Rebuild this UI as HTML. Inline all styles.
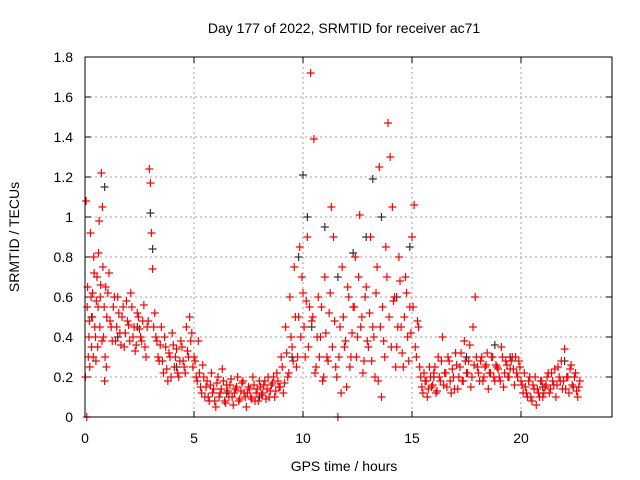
<!DOCTYPE html>
<html><head><meta charset="utf-8">
<style>
body{margin:0;background:#fff;}
svg{display:block;font-family:"Liberation Sans",sans-serif;}
</style></head>
<body>
<svg id="chart" width="640" height="480">
<rect width="640" height="480" fill="#fff"/>
<text x="344" y="33" font-size="14" text-anchor="middle">Day 177 of 2022, SRMTID for receiver ac71</text>
<text x="344" y="471" font-size="14" text-anchor="middle">GPS time / hours</text>
<text transform="translate(19,237) rotate(-90)" font-size="14" text-anchor="middle">SRMTID / TECUs</text>
<g id="grid"></g>
<g id="ticks"></g>
<g id="black"></g>
<g id="red"></g>
<rect x="85" y="57" width="527" height="360" fill="none" stroke="#000" stroke-width="1"/>
</svg>
<script>
const xTicks=[0,5,10,15,20];
const yTicks=[0,0.2,0.4,0.6,0.8,1,1.2,1.4,1.6,1.8];
const yTickLabels=["0","0.2","0.4","0.6","0.8","1","1.2","1.4","1.6","1.8"];
const redT=[0.05,0.08,0.1,0.15,0.2,0.25,0.3,0.35,0.4,0.45,0.5,0.55,0.6,0.65,0.7,0.75,0.8,0.85,0.9,0.95,1.0,1.1,1.2,1.3,1.4,1.5,1.6,1.7,1.8,1.9,2.0,2.1,2.2,2.3,2.4,2.5,2.6,2.7,2.8,2.9,2.95,3.0,3.05,3.1,3.15,3.2,3.3,3.4,3.5,3.6,3.7,3.8,3.9,4.0,4.1,4.2,4.3,4.4,4.5,4.6,4.7,4.8,4.9,5.0,5.1,5.2,5.3,5.4,5.5,5.6,5.7,5.8,5.9,6.0,6.1,6.2,6.3,6.4,6.5,6.6,6.7,6.8,6.9,7.0,7.1,7.2,7.3,7.4,7.5,7.6,7.7,7.8,7.9,8.0,8.1,8.2,8.3,8.4,8.5,8.6,8.7,8.8,8.9,9.0,9.1,9.2,9.3,9.4,9.5,9.6,9.7,9.8,9.85,9.9,10.0,10.1,10.2,10.3,10.35,10.4,10.5,10.6,10.7,10.8,10.9,11.0,11.1,11.2,11.3,11.4,11.5,11.6,11.7,11.8,11.9,12.0,12.1,12.2,12.3,12.4,12.5,12.6,12.7,12.8,12.9,13.0,13.1,13.2,13.3,13.4,13.5,13.6,13.65,13.7,13.8,13.9,14.0,14.1,14.2,14.3,14.4,14.5,14.6,14.7,14.8,14.9,15.0,15.1,15.2,15.3,15.4,15.5,15.6,15.7,15.8,15.9,16.0,16.1,16.2,16.3,16.4,16.5,16.6,16.7,16.8,16.9,17.0,17.1,17.2,17.3,17.4,17.5,17.6,17.7,17.8,17.9,18.0,18.1,18.2,18.3,18.4,18.5,18.6,18.7,18.8,18.9,19.0,19.1,19.2,19.3,19.4,19.5,19.6,19.7,19.8,19.9,20.0,20.1,20.2,20.3,20.4,20.5,20.6,20.7,20.8,20.9,21.0,21.1,21.2,21.3,21.4,21.5,21.6,21.7,21.8,21.9,22.0,22.1,22.2,22.3,22.4,22.5,22.6,22.7];
const redV=[1.08,0.0,0.55,0.3,0.48,0.92,0.35,0.62,0.8,0.45,0.28,0.7,0.55,0.98,0.6,1.22,1.05,0.4,0.18,0.65,0.5,0.72,0.45,0.55,0.38,0.6,0.42,0.5,0.35,0.58,0.46,0.62,0.4,0.33,0.52,0.44,0.38,0.56,0.3,0.48,1.24,1.17,0.92,0.74,0.45,0.52,0.38,0.28,0.45,0.22,0.35,0.18,0.3,0.42,0.25,0.34,0.2,0.38,0.28,0.22,0.33,0.5,0.42,0.3,0.2,0.38,0.15,0.26,0.1,0.18,0.08,0.22,0.14,0.05,0.2,0.12,0.24,0.08,0.16,0.1,0.19,0.06,0.14,0.2,0.09,0.17,0.12,0.05,0.15,0.1,0.2,0.08,0.14,0.18,0.11,0.16,0.09,0.2,0.13,0.17,0.1,0.22,0.15,0.3,0.12,0.45,0.2,0.6,0.35,0.75,0.25,0.5,0.85,0.4,0.62,0.3,0.9,0.55,1.72,0.48,1.39,0.25,0.6,0.4,0.18,0.7,0.3,0.52,1.05,0.9,0.25,0.0,0.45,0.75,0.35,0.15,0.6,0.3,0.55,0.8,0.4,1.01,0.5,0.28,0.65,0.35,0.9,0.45,0.2,0.75,1.25,0.1,0.55,0.38,0.85,1.47,1.3,1.05,0.6,0.35,0.8,0.45,0.25,0.7,0.4,0.55,0.9,1.06,0.3,0.45,0.2,0.12,0.18,0.1,0.25,0.15,0.22,0.12,0.3,0.18,0.4,0.22,0.15,0.28,0.12,0.2,0.32,0.14,0.25,0.18,0.38,0.22,0.28,0.15,0.45,0.6,0.25,0.18,0.3,0.2,0.26,0.14,0.22,0.3,0.18,0.25,0.2,0.35,0.15,0.28,0.2,0.24,0.3,0.16,0.22,0.28,0.18,0.12,0.15,0.1,0.2,0.08,0.14,0.06,0.12,0.18,0.1,0.15,0.2,0.12,0.22,0.16,0.1,0.25,0.18,0.14,0.34,0.2,0.12,0.26,0.15,0.22,0.1,0.18];
const redT2=[0.02,0.12,0.18,0.22,0.28,0.33,0.38,0.42,0.48,0.52,0.58,0.62,0.68,0.72,0.78,0.82,0.88,0.92,0.98,1.05,1.15,1.25,1.35,1.45,1.55,1.65,1.75,1.85,1.95,2.05,2.15,2.25,2.35,2.45,2.55,2.65,2.75,2.85,3.25,3.35,3.45,3.55,3.65,3.75,3.85,3.95,4.05,4.15,4.25,4.35,4.45,4.55,4.65,4.75,4.85,4.95,5.05,5.15,5.25,5.35,5.45,5.55,5.65,5.75,5.85,5.95,6.05,6.15,6.25,6.35,6.45,6.55,6.65,6.75,6.85,6.95,7.05,7.15,7.25,7.35,7.45,7.55,7.65,7.75,7.85,7.95,8.05,8.15,8.25,8.35,8.45,8.55,8.65,8.75,8.85,8.95,9.05,9.15,9.25,9.35,9.45,9.55,9.65,9.75,9.95,10.05,10.15,10.25,10.45,10.55,10.65,10.75,10.85,10.95,11.05,11.15,11.25,11.35,11.45,11.55,11.65,11.75,11.85,11.95,12.05,12.15,12.25,12.35,12.45,12.55,12.65,12.75,12.85,12.95,13.05,13.15,13.25,13.35,13.45,13.55,13.75,13.85,13.95,14.05,14.15,14.25,14.35,14.45,14.55,14.65,14.75,14.85,14.95,15.05,15.15,15.25,15.35,15.45,15.55,15.65,15.75,15.85,15.95,16.05,16.15,16.25,16.35,16.45,16.55,16.65,16.75,16.85,16.95,17.05,17.15,17.25,17.35,17.45,17.55,17.65,17.75,17.85,17.95,18.05,18.15,18.25,18.35,18.45,18.55,18.65,18.75,18.85,18.95,19.05,19.15,19.25,19.35,19.45,19.55,19.65,19.75,19.85,19.95,20.05,20.15,20.25,20.35,20.45,20.55,20.65,20.75,20.85,20.95,21.05,21.15,21.25,21.35,21.45,21.55,21.65,21.75,21.85,21.95,22.05,22.15,22.25,22.35,22.45,22.55,22.65];
const redV2=[0.2,0.65,0.4,0.25,0.6,0.5,0.3,0.72,0.4,0.58,0.35,0.82,0.45,0.66,0.38,0.75,0.55,0.3,0.25,0.62,0.48,0.38,0.6,0.45,0.52,0.36,0.55,0.42,0.48,0.38,0.55,0.45,0.36,0.5,0.4,0.48,0.35,0.45,0.4,0.3,0.36,0.28,0.4,0.24,0.32,0.2,0.36,0.3,0.22,0.28,0.35,0.25,0.45,0.3,0.38,0.25,0.28,0.18,0.22,0.12,0.2,0.15,0.1,0.16,0.12,0.08,0.17,0.1,0.14,0.18,0.07,0.13,0.16,0.1,0.12,0.15,0.08,0.13,0.18,0.1,0.12,0.14,0.09,0.16,0.12,0.08,0.15,0.12,0.18,0.14,0.1,0.16,0.2,0.13,0.18,0.15,0.25,0.17,0.32,0.22,0.4,0.28,0.5,0.3,0.7,0.45,0.58,0.35,0.5,0.22,0.4,0.3,0.55,0.2,0.42,0.28,0.62,0.35,0.48,0.2,0.3,0.12,0.5,0.38,0.65,0.25,0.42,0.55,0.3,0.7,0.45,0.22,0.6,0.38,0.52,0.28,0.4,0.62,0.18,0.45,0.3,0.7,0.5,0.35,0.58,0.25,0.45,0.68,0.32,0.5,0.62,0.28,0.42,0.55,0.35,0.48,0.25,0.15,0.22,0.18,0.14,0.2,0.16,0.25,0.13,0.2,0.28,0.16,0.22,0.3,0.18,0.24,0.14,0.26,0.2,0.32,0.18,0.28,0.22,0.36,0.2,0.26,0.3,0.22,0.28,0.18,0.25,0.32,0.22,0.3,0.2,0.26,0.24,0.18,0.3,0.22,0.26,0.2,0.28,0.24,0.3,0.2,0.25,0.16,0.22,0.12,0.18,0.1,0.16,0.2,0.14,0.1,0.18,0.12,0.16,0.22,0.14,0.18,0.24,0.16,0.2,0.28,0.18,0.14,0.2,0.24,0.16,0.2,0.13,0.15];
const blackT=[0.3,0.9,1.5,2.4,3.0,3.1,4.2,6.5,8.0,9.5,9.8,10.0,10.2,10.4,11.0,11.6,12.3,12.9,13.2,13.6,14.3,14.9,16.0,17.5,18.8,19.5,21.0,22.0];
const blackV=[0.5,1.15,0.4,0.45,1.02,0.84,0.25,0.12,0.1,0.3,0.8,1.21,1.0,0.45,0.95,0.7,0.82,0.9,1.19,1.0,0.6,0.85,0.2,0.3,0.36,0.3,0.15,0.28];
const X0=85,X1=612,Y0=417,PXH=21.8,PXV=200;
const sx=t=>X0+t*PXH, sy=v=>Y0-v*PXV;
const NS="http://www.w3.org/2000/svg";
function mk(tag,attrs,parent){const e=document.createElementNS(NS,tag);for(const k in attrs)e.setAttribute(k,attrs[k]);parent.appendChild(e);return e;}
const grid=document.getElementById('grid'),ticks=document.getElementById('ticks');
xTicks.forEach(t=>{const x=sx(t);
 if(t>0){const g=mk('line',{x1:x,x2:x,y1:57,y2:Y0,stroke:'#a0a0a0','stroke-dasharray':'2,3'},grid);}
 mk('line',{x1:x,x2:x,y1:Y0,y2:Y0-6,stroke:'#000'},ticks);mk('line',{x1:x,x2:x,y1:57,y2:63,stroke:'#000'},ticks);
 const l=mk('text',{x:x,y:Y0+26,'font-size':14,'text-anchor':'middle'},ticks);l.textContent=t;
 
 });
yTicks.forEach((v,i)=>{const y=sy(v);
 if(v>0&&v<1.8){const g=mk('line',{x1:X0,x2:X1,y1:y,y2:y,stroke:'#a0a0a0','stroke-dasharray':'2,3'},grid);}
 mk('line',{x1:X0,x2:X0+6,y1:y,y2:y,stroke:'#000'},ticks);mk('line',{x1:X1,x2:X1-6,y1:y,y2:y,stroke:'#000'},ticks);
 const l=mk('text',{x:X0-12,y:y+5,'font-size':14,'text-anchor':'end'},ticks);l.textContent=yTickLabels[i];
 
 });
function plus(t,v,col,parent){const x=sx(t),y=sy(v);
 const p=mk('path',{d:`M${x-4},${y}H${x+4}M${x},${y-4}V${y+4}`,stroke:col,'stroke-width':1.2,fill:'none'},parent);
 
 }
const bg=document.getElementById('black'),rg=document.getElementById('red');
blackT.forEach((t,i)=>plus(t,blackV[i],'#333',bg));
redT.forEach((t,i)=>plus(t,redV[i],'#ff0000',rg));
redT2.forEach((t,i)=>plus(t,redV2[i],'#ff0000',rg));
</script>
</body></html>
